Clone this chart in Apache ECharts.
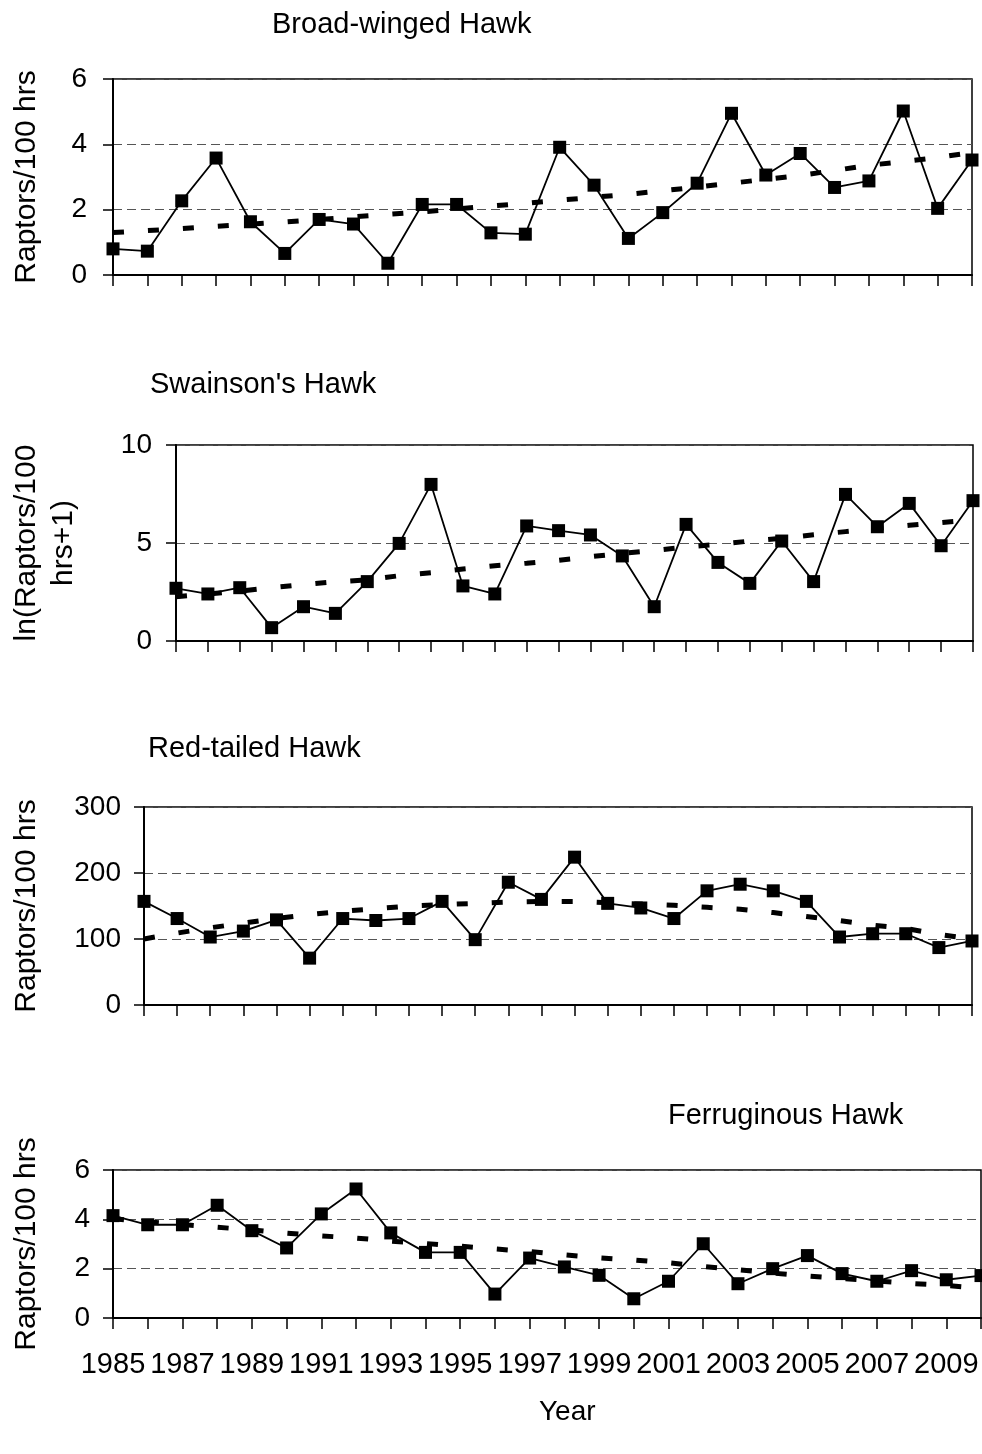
<!DOCTYPE html>
<html>
<head>
<meta charset="utf-8">
<script src="https://cdn.jsdelivr.net/npm/echarts@6/dist/echarts.min.js"></script>
<style>
  body { margin: 0; background: #fff; }
  #chart { width: 982px; height: 1454px; }
</style>
</head>
<body>
<div id="chart"></div>
<script>
const years = ['1985','1986','1987','1988','1989','1990','1991','1992','1993','1994','1995','1996','1997',
  '1998','1999','2000','2001','2002','2003','2004','2005','2006','2007','2008','2009','2010'];

const broadwing = [0.80,0.73,2.27,3.58,1.63,0.66,1.70,1.56,0.36,2.16,2.16,1.29,1.25,3.91,2.75,1.12,1.91,2.81,4.95,3.06,3.72,2.68,2.88,5.02,2.04,3.52];
const broadwingTrend = [1.30,1.36,1.42,1.49,1.56,1.62,1.70,1.78,1.86,1.93,2.02,2.11,2.19,2.29,2.38,2.47,2.58,2.69,2.81,2.93,3.05,3.20,3.36,3.47,3.60,3.75];

const swainson = [2.69,2.40,2.72,0.68,1.75,1.41,3.03,4.98,7.99,2.81,2.40,5.87,5.63,5.41,4.34,1.75,5.95,4.01,2.94,5.10,3.03,7.48,5.83,7.02,4.86,7.16];
const swainsonTrend = [2.26,2.40,2.55,2.72,2.88,3.02,3.12,3.33,3.48,3.67,3.84,3.97,4.12,4.30,4.47,4.62,4.80,4.93,5.10,5.24,5.42,5.58,5.74,5.90,6.04,6.18];

const redtail = [157,131,103,112,129,71,131,128,131,157,99,186,160,224,154,147,131,173,183,173,157,103,108,108,87,97];
const redtailTrend = [100,109,117,124,131,137,142,146,150,152,154,156,157,157,155,153,151,148,145,140,134,128,121,116,107,100];

const ferrug = [4.15,3.78,3.78,4.57,3.54,2.84,4.22,5.23,3.45,2.66,2.66,0.97,2.43,2.07,1.73,0.78,1.49,3.01,1.39,2.00,2.53,1.80,1.49,1.92,1.55,1.72];
const ferrugTrend = [4.02,3.90,3.79,3.68,3.57,3.44,3.33,3.24,3.12,3.02,2.91,2.80,2.69,2.56,2.44,2.35,2.24,2.09,1.96,1.82,1.70,1.60,1.50,1.40,1.32,1.20];

// panel setup: title, y name, y max, y step
const panels = [
  {title: 'Broad-winged Hawk', titlePos: [272, 10], yName: 'Raptors/100 hrs', max: 6, step: 2,
   grid: {left: 112, top: 79, width: 860, height: 196}, nameGap: 68, labelGap: 26, data: broadwing, trend: broadwingTrend},
  {title: "Swainson's Hawk", titlePos: [150, 370], yName: 'ln(Raptors/100\nhrs+1)', max: 10, step: 5,
   grid: {left: 171, top: 445, width: 802, height: 196}, nameGap: 94, labelGap: 24, data: swainson, trend: swainsonTrend},
  {title: 'Red-tailed Hawk', titlePos: [148, 734], yName: 'Raptors/100 hrs', max: 300, step: 100,
   grid: {left: 143, top: 807, width: 829, height: 198}, nameGap: 99, labelGap: 23, data: redtail, trend: redtailTrend},
  {title: 'Ferruginous Hawk', titlePos: [668, 1101], yName: 'Raptors/100 hrs', max: 6, step: 2,
   grid: {left: 112, top: 1170, width: 869, height: 148}, nameGap: 68, labelGap: 23, data: ferrug, trend: ferrugTrend}
];

const font = 'Liberation Sans, Arial, sans-serif';
const chart = echarts.init(document.getElementById('chart'));

const titles = panels.map(p => ({
  text: p.title, left: p.titlePos[0], top: p.titlePos[1], padding: 0,
  textStyle: {fontFamily: font, fontSize: 29, fontWeight: 'normal', color: '#000'}
}));
titles.push({
  text: 'Year', left: 539, top: 1398, padding: 0,
  textStyle: {fontFamily: font, fontSize: 28, fontWeight: 'normal', color: '#000'}
});

const grids = panels.map(p => Object.assign({show: true, borderColor: '#000', borderWidth: 1.5, backgroundColor: 'transparent'}, p.grid));

const xAxes = panels.map((p, i) => ({
  type: 'category', gridIndex: i, data: years, boundaryGap: false,
  axisLine: {lineStyle: {color: '#000', width: 2}},
  axisTick: {show: true, interval: 0, length: 11, lineStyle: {color: '#000', width: 1.5}},
  axisLabel: {show: i === 3, interval: 1, margin: 32, color: '#000', fontFamily: font, fontSize: 29},
  splitLine: {show: false}
}));

const yAxes = panels.map((p, i) => ({
  type: 'value', gridIndex: i, min: 0, max: p.max, interval: p.step,
  name: p.yName, nameLocation: 'middle', nameRotate: 90, nameGap: p.nameGap,
  nameTextStyle: {fontFamily: font, fontSize: 30, color: '#000', lineHeight: 37},
  axisLine: {show: true, lineStyle: {color: '#000', width: 2}},
  axisTick: {show: true, length: 10, lineStyle: {color: '#000', width: 1.5}},
  axisLabel: {margin: p.labelGap, color: '#000', fontFamily: font, fontSize: 28},
  splitLine: {show: true, lineStyle: {color: '#555', type: [9, 5], width: 1}}
}));

const series = [];
panels.forEach((p, i) => {
  series.push({
    type: 'line', xAxisIndex: i, yAxisIndex: i, data: p.data,
    symbol: 'rect', symbolSize: 13, itemStyle: {color: '#000'},
    lineStyle: {color: '#000', width: 1.8}, animation: false
  });
  series.push({
    type: 'line', xAxisIndex: i, yAxisIndex: i, data: p.trend,
    symbol: 'none', lineStyle: {color: '#000', width: 5, type: [11, 24]}, animation: false
  });
});

chart.setOption({
  backgroundColor: '#fff',
  animation: false,
  title: titles,
  grid: grids,
  xAxis: xAxes,
  yAxis: yAxes,
  series: series
});
</script>
</body>
</html>
